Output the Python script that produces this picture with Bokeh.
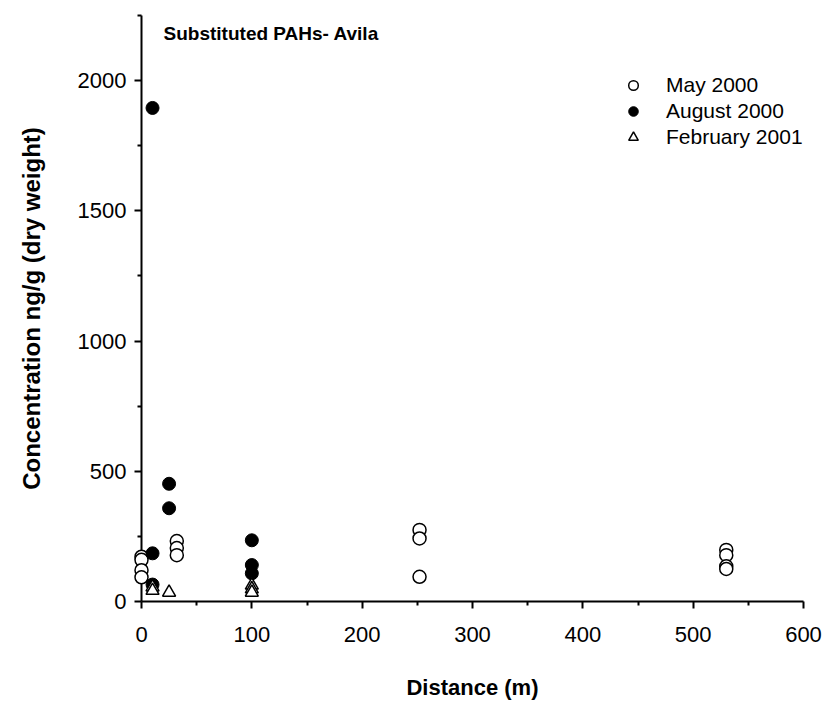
from bokeh.plotting import figure
from bokeh.models import FixedTicker, Legend, LegendItem, Label, Range1d
from bokeh.embed import file_html
from bokeh.resources import INLINE

# Data
may_x = [0, 0, 0, 0, 32, 32, 32, 252, 252, 252, 530, 530, 530, 530]
may_y = [172, 160, 120, 93, 232, 205, 178, 275, 242, 95, 198, 178, 135, 125]
aug_x = [10, 10, 10, 25, 25, 100, 100, 100]
aug_y = [1895, 185, 65, 452, 358, 235, 140, 108]
feb_x = [10, 10, 25, 100, 100, 100]
feb_y = [55, 42, 35, 62, 48, 35]

x_ticks = [0, 100, 200, 300, 400, 500, 600]
x_minor = [50, 150, 250, 350, 450, 550]
y_ticks = [0, 500, 1000, 1500, 2000]
y_minor = [250, 750, 1250, 1750, 2250]

FONT = "Liberation Sans"

p = figure(width=822, height=702, output_backend="svg", toolbar_location=None,
           x_range=Range1d(0, 600), y_range=Range1d(0, 2250),
           min_border_left=141, min_border_right=19, min_border_top=15,
           min_border_bottom=99)
p.outline_line_color = None
p.xgrid.visible = False
p.ygrid.visible = False

p.xaxis.ticker = FixedTicker(ticks=x_ticks, minor_ticks=x_minor)
p.yaxis.ticker = FixedTicker(ticks=y_ticks, minor_ticks=y_minor)

for ax in (p.xaxis, p.yaxis):
    ax.axis_line_width = 2
    ax.major_tick_line_width = 2
    ax.minor_tick_line_width = 2
    ax.major_tick_in = 0
    ax.major_tick_out = 7
    ax.minor_tick_in = 0
    ax.minor_tick_out = 4
    ax.major_label_text_font = FONT
    ax.major_label_text_font_size = "22px"
    ax.major_label_text_color = "black"
    ax.axis_label_text_font = FONT
    ax.axis_label_text_font_size = "22px"
    ax.axis_label_text_font_style = "bold"
    ax.axis_label_text_color = "black"

p.xaxis.axis_label = "Distance (m)"
p.yaxis.axis_label = "Concentration ng/g (dry weight)"
p.yaxis.axis_label_text_font_size = "24px"
p.xaxis.major_label_standoff = 18
p.yaxis.major_label_standoff = 8
p.xaxis.axis_label_standoff = 30
p.yaxis.axis_label_standoff = 30

r_may = p.scatter(may_x, may_y, marker="circle", size=13, fill_color="white",
                  line_color="black", line_width=1.5, level="overlay")
r_aug = p.scatter(aug_x, aug_y, marker="circle", size=13, fill_color="black",
                  line_color="black", line_width=1, level="overlay")
r_feb = p.scatter(feb_x, feb_y, marker="triangle", size=13, fill_color="white",
                  line_color="black", line_width=1.5, level="overlay")

legend = Legend(items=[LegendItem(label="May 2000", renderers=[r_may]),
                       LegendItem(label="August 2000", renderers=[r_aug]),
                       LegendItem(label="February 2001", renderers=[r_feb])],
                location=(480, 451), orientation="vertical",
                glyph_width=24, glyph_height=26, label_height=26,
                label_standoff=21, spacing=0, padding=0, margin=0,
                border_line_color=None, background_fill_alpha=0,
                label_text_font=FONT, label_text_font_size="21px",
                label_text_color="black")
p.add_layout(legend)

title = Label(x=20, y=2180, text="Substituted PAHs- Avila", text_font=FONT,
              text_font_size="19px", text_font_style="bold",
              text_baseline="middle", text_color="black")
p.add_layout(title)

open("out.html", "w").write(file_html(p, INLINE))
